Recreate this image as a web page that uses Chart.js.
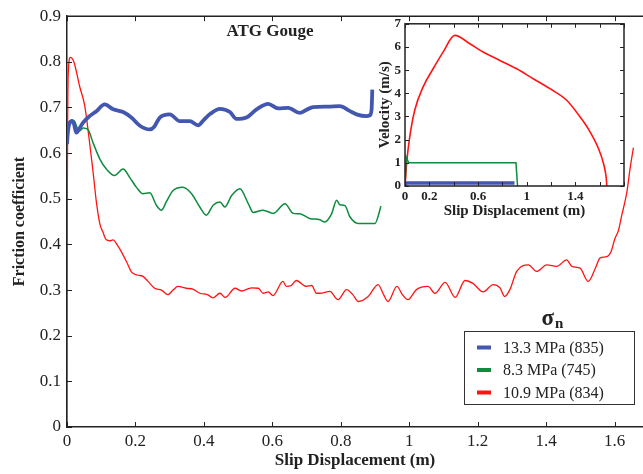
<!DOCTYPE html>
<html>
<head>
<meta charset="utf-8">
<script src="https://cdn.jsdelivr.net/npm/chart.js@4.4.0/dist/chart.umd.min.js"></script>
<style>
  html, body { margin: 0; padding: 0; background: #fff; }
  #wrap { position: relative; width: 643px; height: 474px; overflow: hidden; }
  #main { position: absolute; left: 0; top: 0; }
  #inset { position: absolute; left: 360px; top: 12px; }
</style>
</head>
<body>
<div id="wrap">
  <canvas id="main" width="643" height="474"></canvas>
  <canvas id="inset" width="280" height="212"></canvas>
</div>
<script>
// series labels
const seriesLabels = ['13.3 MPa (835)', '8.3 MPa (745)', '10.9 MPa (834)'];

// main plot: friction coefficient vs slip displacement
const blueX = [0, 0.003, 0.013, 0.02, 0.027, 0.037, 0.047, 0.066, 0.086, 0.11, 0.135, 0.164, 0.188, 0.213, 0.242, 0.255, 0.271, 0.3, 0.33, 0.359, 0.383, 0.4, 0.417, 0.447, 0.476, 0.495, 0.524, 0.554, 0.588, 0.617, 0.646, 0.68, 0.7, 0.719, 0.763, 0.797, 0.827, 0.846, 0.875, 0.885, 0.89, 0.892];
const blueY = [0.62, 0.649, 0.67, 0.665, 0.645, 0.655, 0.667, 0.681, 0.692, 0.707, 0.696, 0.69, 0.678, 0.66, 0.652, 0.658, 0.678, 0.685, 0.67, 0.67, 0.661, 0.673, 0.685, 0.697, 0.69, 0.675, 0.678, 0.696, 0.708, 0.698, 0.699, 0.688, 0.695, 0.701, 0.702, 0.703, 0.692, 0.685, 0.681, 0.683, 0.696, 0.739];

const greenX = [0, 0.003, 0.013, 0.022, 0.03, 0.037, 0.047, 0.061, 0.076, 0.096, 0.115, 0.139, 0.164, 0.183, 0.203, 0.222, 0.242, 0.261, 0.276, 0.29, 0.31, 0.339, 0.364, 0.388, 0.407, 0.427, 0.447, 0.461, 0.481, 0.505, 0.53, 0.544, 0.573, 0.603, 0.637, 0.661, 0.68, 0.709, 0.739, 0.753, 0.773, 0.788, 0.797, 0.812, 0.827, 0.851, 0.885, 0.9, 0.91, 0.917];
const greenY = [0.63, 0.652, 0.673, 0.67, 0.655, 0.649, 0.655, 0.652, 0.623, 0.587, 0.565, 0.551, 0.565, 0.547, 0.525, 0.511, 0.513, 0.486, 0.475, 0.493, 0.518, 0.525, 0.511, 0.482, 0.464, 0.486, 0.493, 0.482, 0.507, 0.522, 0.489, 0.47, 0.475, 0.468, 0.489, 0.468, 0.467, 0.457, 0.454, 0.449, 0.467, 0.497, 0.487, 0.485, 0.46, 0.446, 0.446, 0.446, 0.464, 0.484];

const redX = [0, 0.001, 0.004, 0.01, 0.02, 0.037, 0.052, 0.066, 0.076, 0.086, 0.096, 0.105, 0.115, 0.125, 0.134, 0.15, 0.174, 0.188, 0.205, 0.222, 0.237, 0.256, 0.276, 0.295, 0.31, 0.324, 0.348, 0.368, 0.388, 0.41, 0.427, 0.447, 0.462, 0.491, 0.51, 0.539, 0.559, 0.573, 0.588, 0.602, 0.631, 0.641, 0.655, 0.67, 0.699, 0.715, 0.729, 0.739, 0.768, 0.792, 0.817, 0.835, 0.851, 0.88, 0.909, 0.925, 0.938, 0.964, 0.98, 0.996, 1.021, 1.055, 1.075, 1.105, 1.134, 1.163, 1.187, 1.216, 1.245, 1.265, 1.279, 1.294, 1.314, 1.348, 1.372, 1.402, 1.431, 1.46, 1.475, 1.499, 1.523, 1.545, 1.557, 1.577, 1.59, 1.601, 1.611, 1.621, 1.636, 1.645, 1.655];
const redY = [0, 0.5, 0.78, 0.81, 0.8, 0.746, 0.703, 0.623, 0.56, 0.492, 0.445, 0.427, 0.41, 0.408, 0.41, 0.395, 0.362, 0.34, 0.333, 0.33, 0.319, 0.304, 0.3, 0.29, 0.3, 0.308, 0.304, 0.302, 0.293, 0.29, 0.283, 0.293, 0.284, 0.304, 0.298, 0.305, 0.304, 0.293, 0.296, 0.288, 0.319, 0.308, 0.31, 0.321, 0.308, 0.31, 0.293, 0.293, 0.297, 0.279, 0.301, 0.29, 0.275, 0.286, 0.312, 0.29, 0.275, 0.308, 0.29, 0.279, 0.301, 0.308, 0.293, 0.317, 0.284, 0.321, 0.314, 0.296, 0.312, 0.305, 0.286, 0.301, 0.341, 0.355, 0.341, 0.355, 0.352, 0.366, 0.352, 0.348, 0.319, 0.35, 0.37, 0.373, 0.385, 0.413, 0.43, 0.464, 0.515, 0.565, 0.612];

// inset: velocity vs slip displacement
const insetBlueX = [0, 0.005, 0.9];
const insetBlueY = [0, 0.13, 0.13];
const insetGreenX = [0, 0.01, 0.03, 0.912, 0.925];
const insetGreenY = [0, 1.25, 1.0, 1.0, 0];
const insetRedX = [0, 0.016, 0.039, 0.08, 0.148, 0.231, 0.313, 0.409, 0.533, 0.643, 0.78, 0.918, 1.054, 1.192, 1.329, 1.439, 1.521, 1.59, 1.631, 1.653, 1.659];
const insetRedY = [0, 1.12, 2.12, 3.27, 4.27, 5.06, 5.78, 6.5, 6.14, 5.78, 5.42, 5.06, 4.63, 4.2, 3.7, 2.98, 2.34, 1.62, 0.98, 0.4, 0];

// ticks
const mainXTicks = [0, 0.2, 0.4, 0.6, 0.8, 1, 1.2, 1.4, 1.6];
const mainYTicks = [0, 0.1, 0.2, 0.3, 0.4, 0.5, 0.6, 0.7, 0.8, 0.9];
const insetXTicks = [0, 0.2, 0.4, 0.6, 0.8, 1, 1.2, 1.4, 1.6, 1.8];
const insetXLabels = [0, 0.2, 0.6, 1, 1.4];
const insetYTicks = [0, 1, 2, 3, 4, 5, 6, 7];

const colors = ['#4357b0', '#0c8c3c', '#ff1414'];
const ink = '#222';
const serif = '"Liberation Serif", "DejaVu Serif", serif';

const pts = (xs, ys) => xs.map((x, i) => ({ x: x, y: ys[i] }));
const fmt = v => String(+v.toFixed(1));
const useTicks = list => s => { s.ticks = list.map(v => ({ value: v })); };

function drawTicks(chart, sides, len) {
  const { ctx, chartArea: a, scales: { x, y } } = chart;
  ctx.save();
  ctx.strokeStyle = ink;
  ctx.lineWidth = 1;
  ctx.beginPath();
  x.ticks.forEach(t => {
    const px = Math.round(x.getPixelForValue(t.value)) + 0.5;
    if (sides.bottom) { ctx.moveTo(px, a.bottom); ctx.lineTo(px, a.bottom - len); }
    if (sides.top) { ctx.moveTo(px, a.top); ctx.lineTo(px, a.top + len); }
  });
  y.ticks.forEach(t => {
    const py = Math.round(y.getPixelForValue(t.value)) + 0.5;
    if (sides.left) { ctx.moveTo(a.left, py); ctx.lineTo(a.left + len, py); }
    if (sides.right) { ctx.moveTo(a.right, py); ctx.lineTo(a.right - len, py); }
  });
  ctx.stroke();
  ctx.restore();
}

const mainDecor = {
  id: 'mainDecor',
  afterDraw(chart) {
    const { ctx, chartArea: a } = chart;
    ctx.save();
    ctx.strokeStyle = ink;
    ctx.lineWidth = 1.5;
    ctx.beginPath();
    ctx.moveTo(a.left, a.top);
    ctx.lineTo(a.right, a.top);
    ctx.stroke();
    ctx.restore();
    drawTicks(chart, { bottom: true, top: true, left: true }, 5);

    ctx.save();
    ctx.fillStyle = ink;
    ctx.textAlign = 'center';
    ctx.textBaseline = 'middle';
    ctx.font = 'bold 17px ' + serif;
    ctx.fillText('ATG Gouge', 270, 32);

    // legend
    ctx.font = 'bold 23px ' + serif;
    ctx.textAlign = 'right';
    ctx.textBaseline = 'alphabetic';
    ctx.fillText('σ', 554, 325);
    ctx.font = 'bold 15px ' + serif;
    ctx.textAlign = 'left';
    ctx.fillText('n', 555, 328);

    ctx.fillStyle = '#fff';
    ctx.fillRect(464, 331, 171, 74);
    ctx.strokeStyle = '#333';
    ctx.lineWidth = 1;
    ctx.strokeRect(464.5, 331.5, 170, 73);
    ctx.font = '16px ' + serif;
    ctx.textBaseline = 'middle';
    chart.data.datasets.forEach((ds, i) => {
      const cy = 347.5 + i * 22.5;
      ctx.fillStyle = ds.borderColor;
      ctx.fillRect(477, cy - 2, 14, 4);
      ctx.fillStyle = ink;
      ctx.fillText(ds.label, 503, cy + 1);
    });
    ctx.restore();
  }
};

const insetDecor = {
  id: 'insetDecor',
  afterDraw(chart) {
    const { ctx, chartArea: a } = chart;
    ctx.save();
    ctx.strokeStyle = ink;
    ctx.lineWidth = 1.5;
    ctx.strokeRect(a.left, a.top, a.right - a.left, a.bottom - a.top);
    ctx.restore();
    drawTicks(chart, { bottom: true, top: true, left: true, right: true }, 4);
  }
};

new Chart(document.getElementById('main'), {
  type: 'scatter',
  data: {
    datasets: [
      { label: seriesLabels[0], data: pts(blueX, blueY), borderColor: colors[0], borderWidth: 3.8 },
      { label: seriesLabels[1], data: pts(greenX, greenY), borderColor: colors[1], borderWidth: 1.5 },
      { label: seriesLabels[2], data: pts(redX, redY), borderColor: colors[2], borderWidth: 1.3 }
    ].map(d => Object.assign(d, { showLine: true, pointRadius: 0, cubicInterpolationMode: 'monotone', backgroundColor: d.borderColor }))
  },
  options: {
    responsive: false,
    animation: false,
    events: [],
    layout: { padding: { top: 13, right: 0, left: 0, bottom: 0 } },
    plugins: { legend: { display: false }, tooltip: { enabled: false } },
    scales: {
      x: {
        type: 'linear', min: 0, max: 1.683,
        afterBuildTicks: useTicks(mainXTicks),
        afterFit: s => { s.height = 47; },
        grid: { display: false, drawTicks: false },
        border: { display: true, color: ink, width: 1.5 },
        ticks: { padding: 4, color: ink, font: { family: serif, size: 17 }, callback: fmt, maxRotation: 0, autoSkip: false },
        title: { display: true, text: 'Slip Displacement (m)', color: ink, font: { family: serif, size: 17, weight: 'bold' }, padding: { top: 0, bottom: 3 } }
      },
      y: {
        type: 'linear', min: 0, max: 0.9,
        afterBuildTicks: useTicks(mainYTicks),
        afterFit: s => { s.width = 67; },
        grid: { display: false, drawTicks: false },
        border: { display: true, color: ink, width: 1.5 },
        ticks: { padding: 6, color: ink, font: { family: serif, size: 17 }, callback: fmt, autoSkip: false },
        title: { display: true, text: 'Friction coefficient', color: ink, font: { family: serif, size: 16, weight: 'bold' }, padding: { top: 10, bottom: 0 } }
      }
    }
  },
  plugins: [mainDecor]
});

new Chart(document.getElementById('inset'), {
  type: 'scatter',
  data: {
    datasets: [
      { label: seriesLabels[0], data: pts(insetBlueX, insetBlueY), borderColor: colors[0], borderWidth: 3.5 },
      { label: seriesLabels[1], data: pts(insetGreenX, insetGreenY), borderColor: colors[1], borderWidth: 1.5 },
      { label: seriesLabels[2], data: pts(insetRedX, insetRedY), borderColor: colors[2], borderWidth: 1.6, cubicInterpolationMode: 'monotone' }
    ].map(d => Object.assign({ showLine: true, pointRadius: 0, tension: 0, backgroundColor: d.borderColor }, d))
  },
  options: {
    responsive: false,
    animation: false,
    events: [],
    layout: { padding: { top: 11, right: 16, left: 0, bottom: 0 } },
    plugins: { legend: { display: false }, tooltip: { enabled: false } },
    scales: {
      x: {
        type: 'linear', min: 0, max: 1.8,
        afterBuildTicks: useTicks(insetXTicks),
        afterFit: s => { s.height = 38; },
        grid: { display: false, drawTicks: false },
        border: { display: false },
        ticks: {
          padding: 3, color: ink, font: { family: serif, size: 13, weight: 'bold' }, maxRotation: 0, autoSkip: false,
          callback: v => insetXLabels.some(l => Math.abs(l - v) < 1e-6) ? fmt(v) : ''
        },
        title: { display: true, text: 'Slip Displacement (m)', color: ink, font: { family: serif, size: 15, weight: 'bold' }, padding: { top: 0, bottom: 4 } }
      },
      y: {
        type: 'linear', min: 0, max: 7,
        afterBuildTicks: useTicks(insetYTicks),
        afterFit: s => { s.width = 45; },
        grid: { display: false, drawTicks: false },
        border: { display: false },
        ticks: { padding: 4, color: ink, font: { family: serif, size: 13, weight: 'bold' }, callback: fmt, autoSkip: false },
        title: { display: true, text: 'Velocity (m/s)', color: ink, font: { family: serif, size: 15, weight: 'bold' }, padding: { top: 16, bottom: 0 } }
      }
    }
  },
  plugins: [insetDecor]
});
</script>
</body>
</html>
